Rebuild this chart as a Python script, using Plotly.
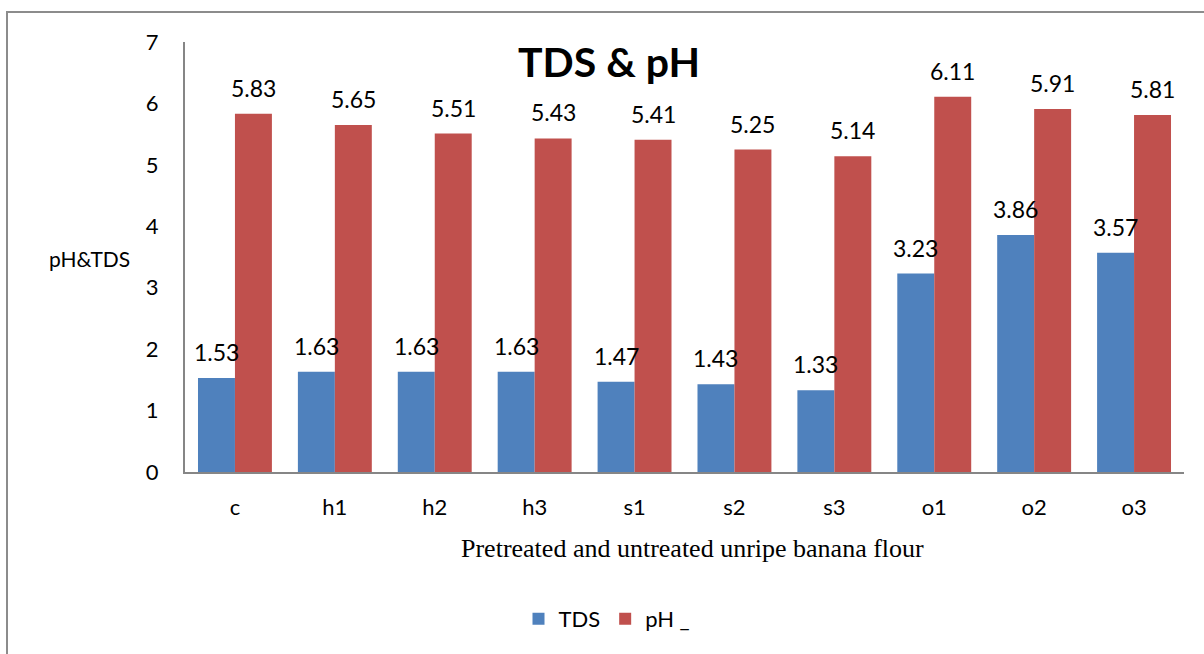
import plotly.graph_objects as go

# Samples: control, heat, steam and oven pretreated unripe banana flour
samples = ["c", "h1", "h2", "h3", "s1", "s2", "s3", "o1", "o2", "o3"]
tds_values = [1.53, 1.63, 1.63, 1.63, 1.47, 1.43, 1.33, 3.23, 3.86, 3.57]
ph_values = [5.83, 5.65, 5.51, 5.43, 5.41, 5.25, 5.14, 6.11, 5.91, 5.81]
y_ticks = [0, 1, 2, 3, 4, 5, 6, 7]

BLUE = "#4F81BD"
RED = "#C0504D"
AXIS_GREY = "#868686"
SANS = "Lato"

W, H = 1204, 654
L, R, T, B = 185, 20, 42, 182
plot_w = W - L - R
plot_h = H - T - B

fig = go.Figure()
fig.add_trace(go.Bar(name="TDS", x=samples, y=tds_values, marker_color=BLUE,
                     marker_line_width=0))
fig.add_trace(go.Bar(name="pH _", x=samples, y=ph_values, marker_color=RED,
                     marker_line_width=0))

# value labels above each bar
bar_px = plot_w / len(samples) * (1 - 0.26) / 2
annotations = []
for s, v in zip(samples, tds_values):
    annotations.append(dict(x=s, y=v, text=f"{v:.2f}", showarrow=False,
                            xshift=-bar_px / 2, yshift=26, xanchor="center",
                            yanchor="middle", font=dict(family=SANS, size=23, color="#000")))
for s, v in zip(samples, ph_values):
    annotations.append(dict(x=s, y=v, text=f"{v:.2f}", showarrow=False,
                            xshift=bar_px / 2, yshift=26, xanchor="center",
                            yanchor="middle", font=dict(family=SANS, size=23, color="#000")))

# chart title
annotations.append(dict(xref="paper", yref="paper", x=(609 - L) / plot_w,
                        y=(H - B - 62) / plot_h, text="<b>TDS & pH</b>",
                        showarrow=False, xanchor="center", yanchor="middle",
                        font=dict(family=SANS, size=41, color="#000")))
# horizontal y-axis title
annotations.append(dict(xref="paper", yref="paper", x=(89 - L) / plot_w,
                        y=(H - B - 258) / plot_h, text="pH&TDS",
                        showarrow=False, xanchor="center", yanchor="middle",
                        font=dict(family=SANS, size=21, color="#000")))
# x-axis title
annotations.append(dict(xref="paper", yref="paper", x=(692 - L) / plot_w,
                        y=(H - B - 548) / plot_h, text="Pretreated and untreated unripe banana flour",
                        showarrow=False, xanchor="center", yanchor="middle",
                        font=dict(family="Liberation Serif", size=26, color="#000")))

fig.update_layout(
    width=W, height=H,
    margin=dict(l=L, r=R, t=T, b=B),
    paper_bgcolor="white", plot_bgcolor="white",
    barmode="group", bargap=0.26, bargroupgap=0,
    showlegend=True,
    legend=dict(orientation="h", xref="paper", yref="paper",
                x=(607 - L) / plot_w, y=(H - B - 619) / plot_h,
                xanchor="center", yanchor="middle",
                font=dict(family=SANS, size=22, color="#000"),
                itemwidth=30, bgcolor="rgba(0,0,0,0)"),
    annotations=annotations,
    shapes=[dict(type="rect", xref="paper", yref="paper",
                 x0=(7 - L) / plot_w, x1=(1230 - L) / plot_w,
                 y0=(H - B - 700) / plot_h, y1=(H - B - 12) / plot_h,
                 line=dict(color="#8C8C8C", width=2), fillcolor="rgba(0,0,0,0)",
                 layer="below")],
    xaxis=dict(showline=True, linecolor=AXIS_GREY, linewidth=2, ticks="",
               showgrid=False, tickfont=dict(family=SANS, size=22, color="#000"),
               ticklabelstandoff=15),
    yaxis=dict(range=[0, 7], tickvals=y_ticks, showline=True, linecolor=AXIS_GREY,
               linewidth=2, ticks="", showgrid=False, zeroline=False,
               tickfont=dict(family=SANS, size=22, color="#000"),
               ticklabelstandoff=20),
)

fig.write_html("out.html")
